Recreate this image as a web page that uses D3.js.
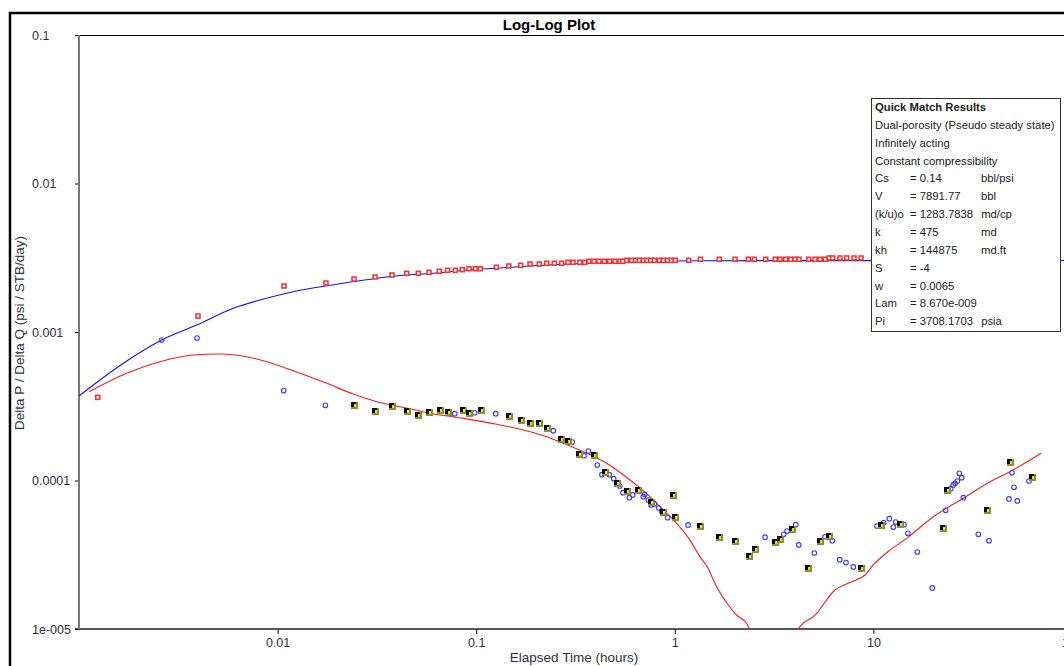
<!DOCTYPE html>
<html>
<head>
<meta charset="utf-8">
<script src="https://cdn.jsdelivr.net/npm/d3@7"></script>
<style>
body { margin: 0; background: #fff; }
text { font-family: Arial, "Liberation Sans", sans-serif; }
</style>
</head>
<body>
<svg width="1064" height="666"></svg>
<script>
// measured pressure (red squares)
var pressTime = [0.001242, 0.003974, 0.01077, 0.01752, 0.02425, 0.03094, 0.03767, 0.04468, 0.05111, 0.05785,
  0.06521, 0.07186, 0.07845, 0.08511, 0.09198, 0.09897, 0.1049, 0.1263, 0.1458, 0.1675,
  0.1866, 0.2078, 0.2265, 0.2473, 0.2694, 0.2899, 0.3072, 0.332, 0.3518, 0.3698,
  0.3918, 0.4151, 0.4416, 0.47, 0.4997, 0.5296, 0.5465, 0.5723, 0.6067, 0.6354,
  0.6625, 0.694, 0.7244, 0.7562, 0.7884, 0.8356, 0.8751, 0.9209, 0.9603, 1.006,
  1.175, 1.344, 1.675, 2.01, 2.345, 2.513, 2.87, 3.206, 3.386, 3.618,
  3.834, 4.03, 4.222, 4.724, 5.081, 5.384, 5.724, 5.995, 6.237, 6.789,
  7.337, 7.989, 8.664];
var pressValue = [0.000363, 0.001281, 0.002041, 0.002138, 0.002275, 0.002347, 0.00242, 0.002485, 0.002485, 0.002523,
  0.002563, 0.002603, 0.002603, 0.002627, 0.002668, 0.002668, 0.002668, 0.002727, 0.002783, 0.002813,
  0.00287, 0.00287, 0.002901, 0.002901, 0.002901, 0.002947, 0.002947, 0.002947, 0.002947, 0.002993,
  0.002993, 0.002993, 0.002993, 0.002993, 0.002993, 0.002993, 0.002993, 0.00304, 0.00304, 0.00304,
  0.00304, 0.00304, 0.00304, 0.00304, 0.00304, 0.00304, 0.00304, 0.00304, 0.00304, 0.00304,
  0.00304, 0.003088, 0.003088, 0.003088, 0.003088, 0.003088, 0.003088, 0.003088, 0.003088, 0.003088,
  0.003088, 0.003088, 0.003088, 0.003088, 0.003088, 0.003088, 0.003088, 0.00315, 0.00315, 0.00315,
  0.00315, 0.00315, 0.00315];

// derivative (blue circles)
var derivTime = [0.002609, 0.003928, 0.01073, 0.01739, 0.07793, 0.09826, 0.1254, 0.2445, 0.3047, 0.3489,
  0.3668, 0.4072, 0.4298, 0.4679, 0.4923, 0.528, 0.5485, 0.5902, 0.6138, 0.694,
  0.7053, 0.7356, 0.759, 0.7884, 0.8297, 0.859, 0.9209, 1.166, 2.846, 3.534,
  3.673, 4.063, 4.207, 5.04, 5.704, 6.209, 6.766, 7.278, 7.922, 10.42,
  11.27, 12.03, 12.6, 12.95, 14.26, 14.94, 16.64, 19.8, 23.12, 24.5,
  25.25, 25.76, 26.46, 27.07, 27.84, 28.36, 33.75, 38.2, 48.18, 49.88,
  51.05, 53.03, 60.74];
var derivValue = [0.000883, 0.000911, 0.000403, 0.000321, 0.000282, 0.000286, 0.000282, 0.0002165, 0.0001817, 0.0001469,
  0.000158, 0.0001272, 0.0001094, 0.0001094, 0.0001028, 0.0000918, 0.0000828, 0.0000766, 0.0000799, 0.0000778,
  0.0000807, 0.0000739, 0.0000684, 0.0000695, 0.0000653, 0.000062, 0.0000562, 0.0000502, 0.0000415, 0.0000434,
  0.0000457, 0.0000504, 0.0000368, 0.0000325, 0.0000418, 0.0000393, 0.0000293, 0.000028, 0.0000262, 0.0000494,
  0.000052, 0.0000553, 0.0000486, 0.0000525, 0.0000504, 0.0000441, 0.000033, 0.0000189, 0.000063, 0.0000881,
  0.0000933, 0.0000957, 0.0000992, 0.0001118, 0.0001044, 0.0000766, 0.0000434, 0.0000393, 0.0000751, 0.0001128,
  0.00009, 0.0000728, 0.0000992];

// smoothed derivative (black/yellow markers)
var smoothTime = [0.02425, 0.03104, 0.0378, 0.04468, 0.05111, 0.05785, 0.06549, 0.07211, 0.08551, 0.09198,
  0.1054, 0.1463, 0.1675, 0.1866, 0.2078, 0.2272, 0.2673, 0.2889, 0.3304, 0.3918,
  0.4468, 0.5135, 0.5723, 0.6549, 0.759, 0.8751, 0.9793, 1.002, 1.339, 1.67,
  2.01, 2.363, 2.533, 3.184, 3.386, 3.891, 4.7, 5.384, 5.955, 8.694,
  10.92, 13.66, 22.49, 23.56, 37.46, 48.74, 62.67];
var smoothValue = [0.000322, 0.000294, 0.000319, 0.000294, 0.000276, 0.000289, 0.0003, 0.000289, 0.0003, 0.000285,
  0.0003, 0.000272, 0.000254, 0.000245, 0.000243, 0.000227, 0.000189, 0.000184, 0.0001515, 0.0001492,
  0.0001141, 0.0000967, 0.0000854, 0.0000859, 0.0000716, 0.0000614, 0.0000799, 0.000057, 0.0000494, 0.0000416,
  0.000039, 0.000031, 0.0000347, 0.0000384, 0.0000404, 0.0000473, 0.0000259, 0.000039, 0.0000423, 0.0000259,
  0.0000499, 0.0000507, 0.0000481, 0.0000863, 0.0000633, 0.0001339, 0.0001051];

// model curves
var modelPTime = [0.001, 0.00118, 0.001739, 0.002609, 0.003914, 0.005983, 0.008153, 0.012, 0.01767, 0.02599,
  0.04134, 0.06081, 0.0896, 0.1318, 0.1939, 0.2856, 0.42, 0.6181, 1.339, 9.614, 100];
var modelPValue = [0.000371, 0.00044, 0.000638, 0.000883, 0.001114, 0.001444, 0.001643, 0.001868, 0.00205, 0.002216,
  0.002402, 0.002485, 0.002616, 0.002698, 0.002795, 0.00287, 0.002929, 0.002975, 0.003021, 0.003024, 0.00303];
var modelDTime = [0.001123, 0.001739, 0.002558, 0.003763, 0.005129, 0.006988, 0.009896, 0.01297, 0.01767, 0.02405,
  0.03155, 0.04134, 0.05853, 0.0861, 0.1269, 0.1726, 0.2265, 0.2746, 0.3462, 0.4541,
  0.5949, 0.7499, 0.8751, 1.022, 1.193, 1.339, 1.487, 1.563, 1.859, 2.05,
  2.301, 2.372, 2.748, 3.195, 3.715, 4.187, 5.081, 6.407, 7.778, 9.073,
  9.989, 12.12, 14.72, 20.03, 28.36, 40.15, 48.74, 69.83];
var modelDValue = [0.000396, 0.000527, 0.000631, 0.0007, 0.000711, 0.000682, 0.0006, 0.000527, 0.000451, 0.000382,
  0.000339, 0.000314, 0.000284, 0.000262, 0.000239, 0.000219, 0.000197, 0.000178, 0.0001563, 0.0001305,
  0.0001008, 0.0000778, 0.0000633, 0.0000515, 0.0000397, 0.0000307, 0.000025, 0.0000214, 0.0000145, 0.0000124,
  0.0000109, 0.00001, 0.0000062, 0.0000055, 0.0000067, 0.00001, 0.0000124, 0.0000183, 0.0000208, 0.0000231,
  0.000027, 0.000034, 0.0000408, 0.000057, 0.0000759, 0.0001008, 0.0001147, 0.0001525];

var xTicks = [0.01, 0.1, 1, 10, 100],
  xTickLabels = ['0.01', '0.1', '1', '10', '100'];
var yTicks = [0.1, 0.01, 0.001, 0.0001, 0.00001],
  yTickLabels = ['0.1', '0.01', '0.001', '0.0001', '1e-005'];

var legendTitle = 'Quick Match Results';
var legendNotes = ['Dual-porosity (Pseudo steady state)', 'Infinitely acting', 'Constant compressibility'];
var legendRows = [
  ['Cs', '= 0.14', 'bbl/psi'],
  ['V', '= 7891.77', 'bbl'],
  ['(k/u)o', '= 1283.7838', 'md/cp'],
  ['k', '= 475', 'md'],
  ['kh', '= 144875', 'md.ft'],
  ['S', '= -4', ''],
  ['w', '= 0.0065', ''],
  ['Lam', '= 8.670e-009', ''],
  ['Pi', '= 3708.1703', 'psia'],
];

var svg = d3.select('svg'),
  plotL = 79, plotT = 35, plotR = 1072, plotB = 629,
  textCol = '#30303c';

var x = d3.scaleLog().domain([0.001, 100]).range([plotL, plotR]),
  y = d3.scaleLog().domain([0.00001, 0.1]).range([plotB, plotT]);

var zip = (a, b) => a.map((d, i) => ({t: d, v: b[i]}));

svg.append('rect').attr('width', 1064).attr('height', 666).attr('fill', '#fff');

// outer frame
svg.append('path')
  .attr('d', 'M10,666V13H1064')
  .attr('fill', 'none')
  .attr('stroke', '#000')
  .attr('stroke-width', 2.5);

svg.append('text')
  .attr('x', 549)
  .attr('y', 30)
  .attr('text-anchor', 'middle')
  .style('font-size', '15px')
  .style('font-weight', 'bold')
  .attr('fill', '#000')
  .text('Log-Log Plot');

svg.append('defs').append('clipPath')
  .attr('id', 'plot')
  .append('rect')
  .attr('x', plotL)
  .attr('y', plotT)
  .attr('width', plotR - plotL)
  .attr('height', plotB - plotT);

// axes
var gx = svg.append('g')
  .attr('transform', 'translate(0,' + plotB + ')')
  .call(d3.axisBottom(x).tickValues(xTicks).tickSize(5).tickFormat((d, i) => xTickLabels[i]));
gx.select('.domain').remove();
gx.selectAll('line').attr('stroke', '#000');
gx.selectAll('text')
  .attr('y', 9)
  .attr('fill', textCol)
  .style('font-size', '12.5px')
  .style('font-family', 'Arial, "Liberation Sans", sans-serif');

var gy = svg.append('g')
  .attr('transform', 'translate(' + plotL + ',0)')
  .call(d3.axisLeft(y).tickValues(yTicks).tickSize(4).tickFormat((d, i) => yTickLabels[i]));
gy.select('.domain').remove();
gy.selectAll('line').attr('stroke', '#000');
gy.selectAll('text')
  .attr('x', 32 - plotL)
  .attr('text-anchor', 'start')
  .attr('fill', textCol)
  .style('font-size', '12.5px')
  .style('font-family', 'Arial, "Liberation Sans", sans-serif');

svg.append('line')
  .attr('x1', 75).attr('x2', 1064).attr('y1', plotT + 0.5).attr('y2', plotT + 0.5)
  .attr('stroke', '#000');
svg.append('line')
  .attr('x1', 75).attr('x2', 1064).attr('y1', plotB).attr('y2', plotB)
  .attr('stroke', '#222').attr('stroke-width', 1.5);
svg.append('line')
  .attr('x1', plotL).attr('x2', plotL).attr('y1', plotT).attr('y2', plotB)
  .attr('stroke', '#777').attr('stroke-width', 2);

svg.append('text')
  .attr('x', 574)
  .attr('y', 662)
  .attr('text-anchor', 'middle')
  .attr('fill', textCol)
  .style('font-size', '13.5px')
  .text('Elapsed Time (hours)');

svg.append('text')
  .attr('transform', 'translate(24,333) rotate(-90)')
  .attr('text-anchor', 'middle')
  .attr('fill', textCol)
  .style('font-size', '13.5px')
  .text('Delta P / Delta Q (psi / STB/day)');

var plot = svg.append('g').attr('clip-path', 'url(#plot)');

var line = d3.line()
  .x(d => x(d.t))
  .y(d => y(d.v))
  .curve(d3.curveMonotoneX);

plot.append('path')
  .attr('d', line(zip(modelPTime, modelPValue)))
  .attr('fill', 'none')
  .attr('stroke', '#1010ff')
  .attr('stroke-width', 1.1);

plot.append('path')
  .attr('d', line(zip(modelDTime, modelDValue)))
  .attr('fill', 'none')
  .attr('stroke', '#ff1a1a')
  .attr('stroke-width', 1.1);

plot.selectAll('.press')
  .data(zip(pressTime, pressValue))
  .enter()
  .append('rect')
  .attr('class', 'press')
  .attr('x', d => x(d.t) - 2)
  .attr('y', d => y(d.v) - 2)
  .attr('width', 4)
  .attr('height', 4)
  .attr('fill', '#fff')
  .attr('stroke', '#ff2a2a')
  .attr('stroke-width', 1.5);

plot.selectAll('.deriv')
  .data(zip(derivTime, derivValue))
  .enter()
  .append('circle')
  .attr('class', 'deriv')
  .attr('cx', d => x(d.t))
  .attr('cy', d => y(d.v))
  .attr('r', 2.3)
  .attr('fill', 'none')
  .attr('stroke', '#3a3aff')
  .attr('stroke-width', 1.1);

var smooth = plot.selectAll('.smooth')
  .data(zip(smoothTime, smoothValue))
  .enter()
  .append('g')
  .attr('class', 'smooth')
  .attr('transform', d => 'translate(' + Math.round(x(d.t)) + ',' + Math.round(y(d.v)) + ')');
smooth.append('rect').attr('x', -3).attr('y', -3).attr('width', 7).attr('height', 7).attr('fill', '#8c8c3a');
smooth.append('rect').attr('x', -3).attr('y', -3).attr('width', 5).attr('height', 5).attr('fill', '#000');
smooth.append('rect').attr('x', 0).attr('y', -1).attr('width', 2).attr('height', 3).attr('fill', '#e8e800');

// legend box
var lg = svg.append('g');
lg.append('rect')
  .attr('x', 871.5)
  .attr('y', 98.5)
  .attr('width', 189)
  .attr('height', 233)
  .attr('fill', '#fff')
  .attr('stroke', '#333');

var rowH = 17.85, y0 = 111, fs = '11.3px';
lg.append('text')
  .attr('x', 875)
  .attr('y', y0)
  .attr('fill', '#222')
  .style('font-size', fs)
  .style('font-weight', 'bold')
  .text(legendTitle);

legendNotes.forEach(function(n, i) {
  lg.append('text')
    .attr('x', 875)
    .attr('y', y0 + rowH * (i + 1))
    .attr('fill', '#222')
    .style('font-size', fs)
    .text(n);
});

legendRows.forEach(function(r, i) {
  var yy = y0 + rowH * (i + 4);
  lg.append('text').attr('x', 875).attr('y', yy).attr('fill', '#222').style('font-size', fs).text(r[0]);
  var val = lg.append('text').attr('x', 910).attr('y', yy).attr('fill', '#222').style('font-size', fs).text(r[1]);
  var end = 910 + val.node().getComputedTextLength();
  lg.append('text')
    .attr('x', Math.max(981, end + 8))
    .attr('y', yy)
    .attr('fill', '#222')
    .style('font-size', fs)
    .text(r[2]);
});
</script>
</body>
</html>
